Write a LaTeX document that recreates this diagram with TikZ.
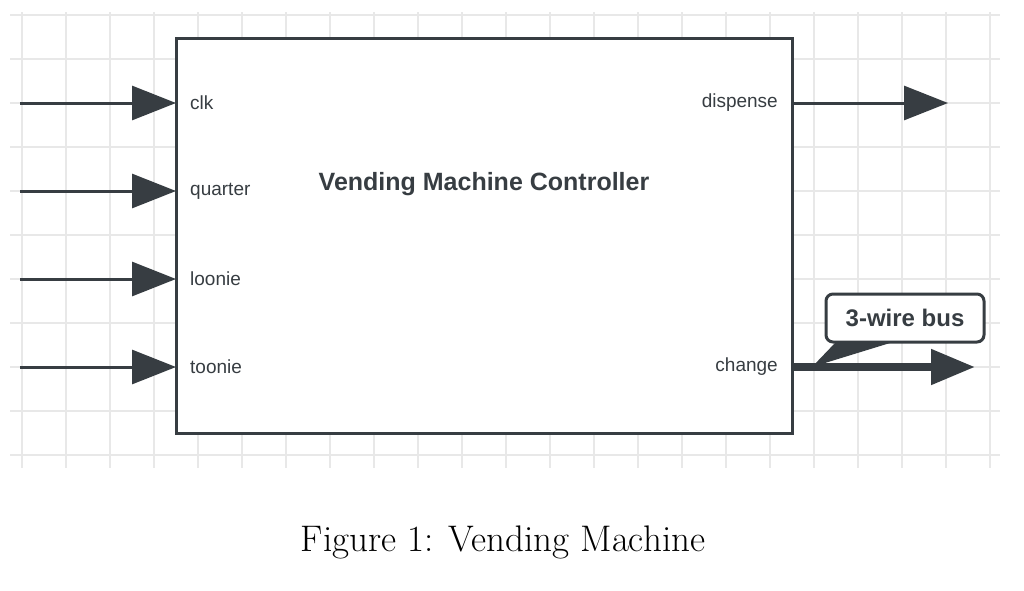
\documentclass[tikz,border=0pt]{standalone}
\usepackage{fontspec}
\setsansfont{Liberation Sans}
\usetikzlibrary{arrows.meta}
\definecolor{ink}{HTML}{373D42}
\definecolor{gridc}{HTML}{E8E8E8}
\begin{document}
\begin{tikzpicture}[x=1pt,y=-1pt,
  wire/.style={draw=ink,line width=3pt,-{Triangle[length=44pt,width=34pt]}},
  bus/.style={draw=ink,line width=8pt,-{Triangle[length=44pt,width=34pt]}},
  port/.style={font=\sffamily\fontsize{19}{21}\selectfont,text=ink,inner sep=0pt}]
\useasboundingbox (0,0) rectangle (1024,590);
\foreach \x in {22,66,...,1000} \draw[gridc,line width=1.5pt] (\x,12) -- (\x,468);
\foreach \y in {15,59,...,465} \draw[gridc,line width=1.5pt] (10,\y) -- (1000,\y);
\node[draw=ink,line width=3pt,fill=white,minimum width=616pt,minimum height=395pt,inner sep=0pt] (box) at (484,235.5) {};
\node[font=\sffamily\bfseries\fontsize{25}{28}\selectfont,text=ink] (title) at (484,184) {Vending Machine Controller};
\foreach \n/\l/\y in {clk/clk/103,qu/quarter/191,lo/loonie/279,to/toonie/367}{
  \coordinate (s\n) at (20,\y);
  \coordinate (e\n) at (176,\y);
  \draw[wire] (s\n) -- (e\n);
  \node[port,anchor=west] (l\n) at (190,\y) {\l};
}
\node[port,anchor=east] (ldis) at (778,103) {dispense};
\node[port,anchor=east] (lchg) at (778,367) {change};
\coordinate (od) at (792,103); \coordinate (odE) at (948,103);
\draw[wire] (od) -- (odE);
\coordinate (oc) at (792,367); \coordinate (ocE) at (975,367);
\draw[bus] (oc) -- (ocE);
\coordinate (tip) at (812,367);
\node[draw=ink,line width=3pt,fill=white,rounded corners=7pt,minimum width=158pt,minimum height=48pt,font=\sffamily\bfseries\fontsize{24}{26}\selectfont,text=ink] (call) at (905,318) {3-wire bus};
\fill[ink] (tip) -- (835,343) -- (890,343) -- cycle;
\node[font=\fontsize{37}{40}\selectfont,inner sep=0pt] (cap) at (503,542) {Figure 1: Vending Machine};
\end{tikzpicture}
\end{document}
